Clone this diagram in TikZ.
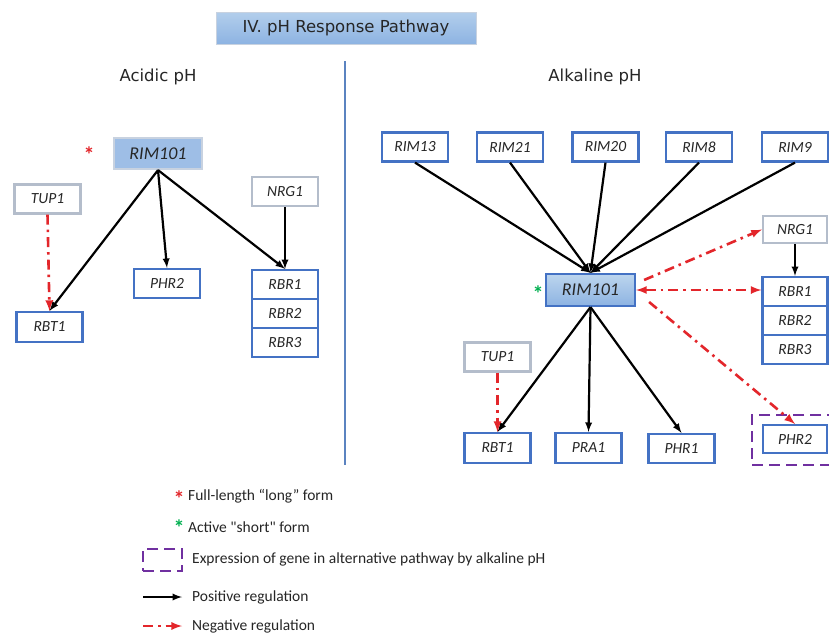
\documentclass[tikz,border=0pt]{standalone}
\usepackage{fontspec}
\setmainfont{Carlito}[Ligatures=TeXOff]
\newfontfamily\headfont{DejaVu Sans}
\usetikzlibrary{shapes.geometric, arrows, positioning}
\definecolor{geneblue}{HTML}{4472C4}
\definecolor{genegray}{HTML}{B4BDCB}
\definecolor{rimtop}{HTML}{BCD5EE}
\definecolor{rimbottom}{HTML}{8DB3E2}
\definecolor{rimedge}{HTML}{C8D2E0}
\definecolor{negred}{HTML}{E3262B}
\definecolor{altpurple}{HTML}{7030A0}
\definecolor{shortgreen}{HTML}{00B050}
\definecolor{divblue}{HTML}{5B83C0}
\definecolor{textgray}{HTML}{262626}
\tikzstyle{gene} = [rectangle, minimum width=66pt, minimum height=29pt,
    inner sep=0pt, text centered, draw=geneblue, line width=2.2pt,
    text=textgray, font=\fontsize{15.5}{18}\selectfont\itshape]
\tikzstyle{greygene} = [gene, draw=genegray]
\tikzstyle{rimgene} = [gene, minimum width=88pt, minimum height=31pt,
    top color=rimtop, bottom color=rimbottom, font=\fontsize{18}{20}\selectfont\itshape]
\tikzstyle{arrow} = [line width=2.2pt,->,>=latex]
\tikzstyle{negarrow} = [line width=2.6pt,->,>=latex, draw=negred,
    dash pattern=on 10pt off 5pt on 2.5pt off 5pt]
\tikzstyle{altframe} = [draw=altpurple, line width=2.2pt, dash pattern=on 11pt off 6pt]
\tikzstyle{head} = [text=textgray, font=\headfont\fontsize{16.5}{20}\selectfont]
\tikzstyle{legend} = [anchor=west, inner sep=0pt, text=textgray,
    font=\fontsize{15.5}{18}\selectfont]
\tikzstyle{star} = [inner sep=0pt, font=\fontsize{22}{22}\selectfont\bfseries]

\begin{document}
\begin{tikzpicture}[x=1pt, y=-1pt]
    \useasboundingbox (0,0) rectangle (829,635);
    \fill[white] (0,0) rectangle (829,635);
    % Title and headings
    \node[head, minimum width=260pt, minimum height=32pt, draw=rimedge,
        top color=rimtop!80!rimbottom, bottom color=rimbottom] (title)
        at (346,28) {IV. pH Response Pathway};
    \node[head] (acidic) at (158,77) {Acidic pH};
    \node[head] (alkaline) at (595,77) {Alkaline pH};
    \coordinate (divtop) at (345,61);
    \coordinate (divbot) at (345,465);
    \draw[divblue, line width=1.4pt] (divtop) -- (divbot);

    % Acidic genes
    \node[rimgene, draw=rimedge, top color=rimbottom!85!white,
        bottom color=rimbottom!85!white] (rimA) at (158,153.5) {RIM101};
    \node[star, text=negred] (starA) at (89,155) {*};
    \node[greygene] (tupA) at (47.5,199) {TUP1};
    \node[gene, minimum height=30pt] (rbtA) at (49.5,327) {RBT1};
    \node[gene] (phrA) at (167,283.5) {PHR2};
    \node[greygene] (nrgA) at (285,191.5) {NRG1};
    \node[gene] (rbrA1) at (285,284.5) {RBR1};
    \node[gene, below of=rbrA1, node distance=29pt] (rbrA2) {RBR2};
    \node[gene, below of=rbrA2, node distance=29pt] (rbrA3) {RBR3};

    % Alkaline genes
    \node[gene] (rim13) at (415,147) {RIM13};
    \node[gene] (rim21) at (510,147) {RIM21};
    \node[gene] (rim20) at (605.5,147) {RIM20};
    \node[gene] (rim8) at (699,147) {RIM8};
    \node[gene] (rim9) at (795,147) {RIM9};
    \node[rimgene, minimum width=89pt, minimum height=32pt] (rimB)
        at (590.5,290) {RIM101};
    \node[star, text=shortgreen] (starB) at (538,294) {*};
    \node[greygene, minimum width=64pt, minimum height=27pt] (nrgB)
        at (795,229.5) {NRG1};
    \node[gene, minimum width=65pt] (rbrB1) at (795,291.5) {RBR1};
    \node[gene, minimum width=65pt, below of=rbrB1, node distance=29pt] (rbrB2) {RBR2};
    \node[gene, minimum width=65pt, below of=rbrB2, node distance=29pt] (rbrB3) {RBR3};
    \node[gene, minimum width=64pt, minimum height=28pt] (phrB) at (795,439) {PHR2};
    \node[altframe, minimum width=86pt, minimum height=50pt] (altbox)
        at (795,440) {};
    \node[greygene] (tupB) at (497.5,357) {TUP1};
    \node[gene, minimum height=30pt] (rbtB) at (497.5,448) {RBT1};
    \node[gene, minimum height=30pt] (praB) at (588.5,448) {PRA1};
    \node[gene] (phrB1) at (681.5,448.5) {PHR1};

    % Arrows (acidic)
    \draw[arrow] (rimA.south) -- (rbtA.north);
    \draw[arrow] (rimA.south) -- (phrA.north);
    \draw[arrow] (rimA.south) -- (rbrA1.north);
    \draw[arrow] (nrgA.south) -- (rbrA1.north);
    \draw[negarrow] (tupA.south) -- (rbtA.north);

    % Arrows (alkaline)
    \foreach \g in {rim13, rim21, rim20, rim8, rim9}
        \draw[arrow] (\g.south) -- (rimB.north);
    \draw[arrow] (rimB.south) -- (rbtB.north);
    \draw[arrow] (rimB.south) -- (praB.north);
    \draw[arrow] (rimB.south) -- (phrB1.north);
    \draw[negarrow] (tupB.south) -- (rbtB.north);
    \draw[negarrow] ([xshift=8pt, yshift=10pt]rimB.east) -- (nrgB.west);
    \draw[negarrow, <->] (rimB.east) -- (rimB.east -| rbrB1.west);
    \draw[negarrow] ([xshift=13pt, yshift=-12pt]rimB.east) -- (phrB.north);
    \draw[arrow] (nrgB.south) -- (rbrB1.north);

    % Legend
    \node[star, text=negred] (keylong) at (179,499) {*};
    \node[legend] (longtext) at (188,496) {Full-length “long” form};
    \node[star, text=shortgreen] (keyshort) at (179,528) {*};
    \node[legend] (shorttext) at (188,527) {Active "short" form};
    \node[altframe, minimum width=39pt, minimum height=22pt] (keyalt)
        at (162.5,560) {};
    \node[legend] (alttext) at (192,559) {Expression of gene in alternative pathway by alkaline pH};
    \coordinate (keypos) at (143,597);
    \node[legend] (postext) at (192,597) {Positive regulation};
    \coordinate (keyneg) at (143,626);
    \node[legend] (negtext) at (192,626) {Negative regulation};
    \draw[arrow] (keypos) -- ([xshift=-10pt]postext.west);
    \draw[negarrow] (keyneg) -- ([xshift=-10pt]negtext.west);
\end{tikzpicture}
\end{document}
